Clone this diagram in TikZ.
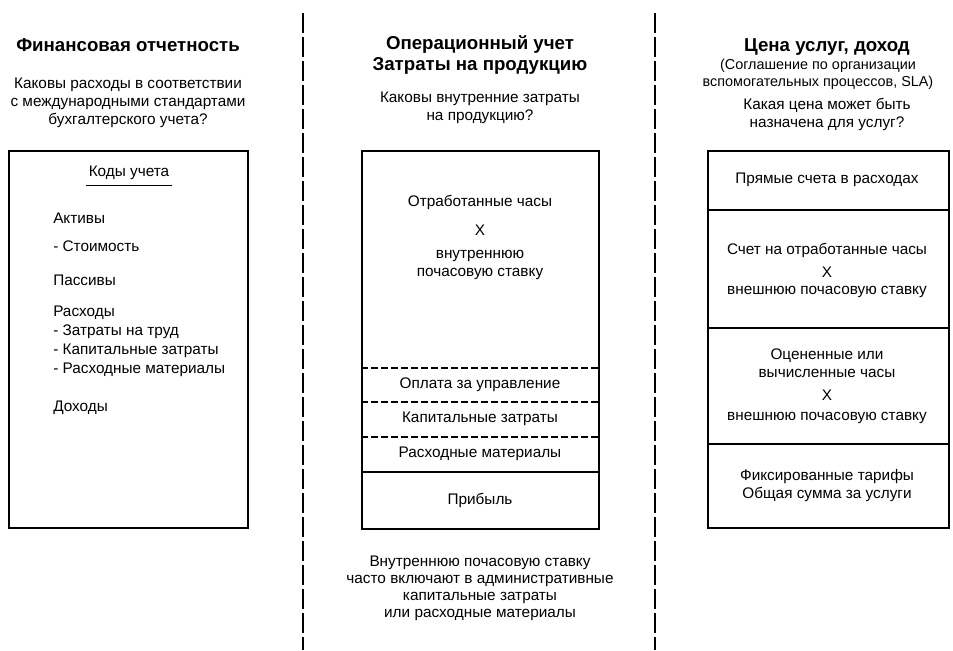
\documentclass[tikz,border=0pt]{standalone}
\usepackage{fontspec}
\setmainfont{Liberation Sans}
\begin{document}
\begin{tikzpicture}[x=0.75pt,y=-0.75pt,
  ttl/.style={font=\fontsize{14}{15.5}\selectfont\bfseries, align=center, inner sep=0pt},
  txt/.style={font=\fontsize{11.5}{13.5}\selectfont, align=center, inner sep=0pt},
  ltxt/.style={font=\fontsize{11.5}{13.5}\selectfont, align=left, anchor=west, inner sep=0pt},
  frame/.style={draw, line width=1.5pt},
  sep/.style={line width=1.5pt},
  cut/.style={line width=1.5pt, dash pattern=on 15pt off 3pt},
  dsep/.style={line width=1pt, dash pattern=on 5pt off 2.5pt}]
\useasboundingbox (0,0) rectangle (953,650);
% column separators
\coordinate (s1t) at (303,13); \coordinate (s1b) at (303,650);
\coordinate (s2t) at (655,13); \coordinate (s2b) at (655,650);
\draw[cut] (s1t) -- (s1b);
\draw[cut] (s2t) -- (s2b);

% ---------- left column ----------
\node[ttl] (t1) at (128,45) {Финансовая отчетность};
\node[txt] (q1) at (128,103) {Каковы расходы в соответствии\\с международными стандартами\\бухгалтерского учета?};
\node[frame, minimum width=239*0.75pt, minimum height=377*0.75pt, anchor=north west, inner sep=0pt] (b1) at (8,150) {};
\node[txt] (codes) at (129,173) {Коды учета};
\draw[line width=0.8pt] ([xshift=-2pt,yshift=-4pt]codes.south west) -- ([xshift=2pt,yshift=-4pt]codes.south east);
\node[ltxt] (l1) at (53,218) {Активы};
\node[ltxt] (l2) at (53,246) {- Стоимость};
\node[ltxt] (l3) at (53,280) {Пассивы};
\node[ltxt, font=\fontsize{11.5}{14.2}\selectfont] (l4) at (53,341) {Расходы\\- Затраты на труд\\- Капитальные затраты\\- Расходные материалы};
\node[ltxt] (l5) at (53,408) {Доходы};

% ---------- middle column ----------
\node[ttl] (t2) at (480,55) {Операционный учет\\Затраты на продукцию};
\node[txt] (q2) at (480,108) {Каковы внутренние затраты\\на продукцию?};
\node[frame, minimum width=237*0.75pt, minimum height=378*0.75pt, anchor=north west, inner sep=0pt] (b2) at (361,150) {};
\coordinate (d1l) at (361,368); \coordinate (d1r) at (598,368);
\coordinate (d2l) at (361,402); \coordinate (d2r) at (598,402);
\coordinate (d3l) at (361,437); \coordinate (d3r) at (598,437);
\coordinate (d4l) at (361,472); \coordinate (d4r) at (598,472);
\draw[dsep] (d1l) -- (d1r);
\draw[dsep] (d2l) -- (d2r);
\draw[dsep] (d3l) -- (d3r);
\draw[sep] (d4l) -- (d4r);
\node[txt] (m1) at (480,202) {Отработанные часы};
\node[txt] (m2) at (480,230) {X};
\node[txt] (m3) at (480,265) {внутреннюю\\почасовую ставку};
\node[txt] (m4) at (480,385) {Оплата за управление};
\node[txt] (m5) at (480,419) {Капитальные затраты};
\node[txt] (m6) at (480,454) {Расходные материалы};
\node[txt] (m7) at (480,500) {Прибыль};
\node[txt, font=\fontsize{11.5}{12.8}\selectfont] (note) at (480,588) {Внутреннюю почасовую ставку\\часто включают в административные\\капитальные затраты\\или расходные материалы};

% ---------- right column ----------
\node[ttl] (t3) at (827,47) {Цена услуг, доход};
\node[txt, font=\fontsize{10.8}{12.8}\selectfont] (s3) at (818,74) {(Соглашение по организации\\вспомогательных процессов, SLA)};
\node[txt] (q3) at (827,114) {Какая цена может быть\\назначена для услуг?};
\node[frame, minimum width=241*0.75pt, minimum height=377*0.75pt, anchor=north west, inner sep=0pt] (b3) at (707,150) {};
\coordinate (r1l) at (707,210); \coordinate (r1r) at (948,210);
\coordinate (r2l) at (707,328); \coordinate (r2r) at (948,328);
\coordinate (r3l) at (707,444); \coordinate (r3r) at (948,444);
\draw[sep] (r1l) -- (r1r);
\draw[sep] (r2l) -- (r2r);
\draw[sep] (r3l) -- (r3r);
\node[txt] (r1) at (827,180) {Прямые счета в расходах};
\node[txt] (r2a) at (827,250) {Счет на отработанные часы};
\node[txt] (r2b) at (827,272) {X};
\node[txt] (r2c) at (827,292) {внешнюю почасовую ставку};
\node[txt] (r3a) at (827,363) {Оцененные или\\вычисленные часы};
\node[txt] (r3b) at (827,395) {X};
\node[txt] (r3c) at (827,418) {внешнюю почасовую ставку};
\node[txt] (r4) at (827,486) {Фиксированные тарифы\\Общая сумма за услуги};
\end{tikzpicture}
\end{document}
